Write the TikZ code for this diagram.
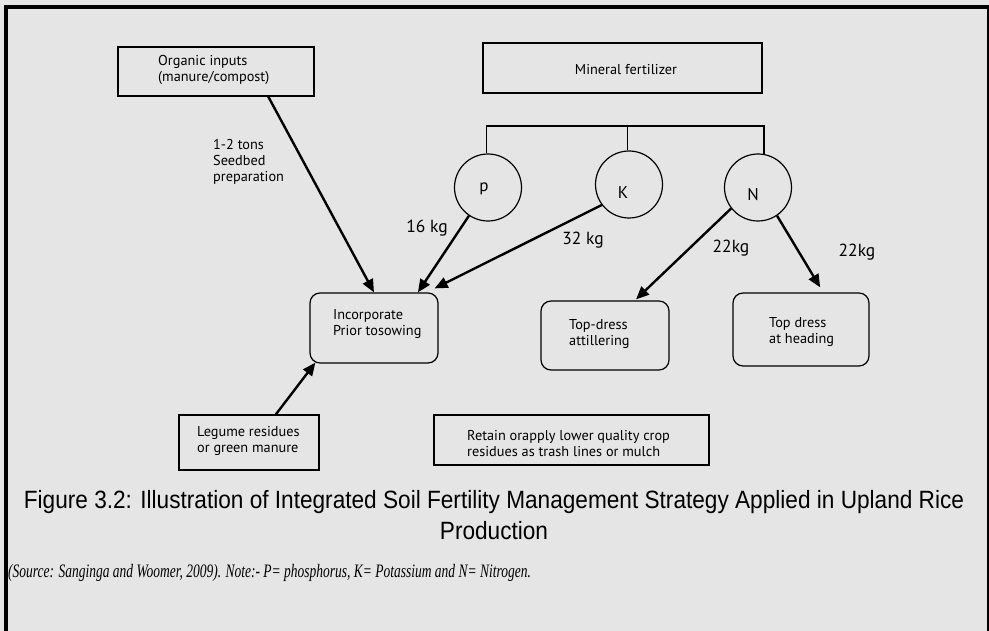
\documentclass[tikz,border=0pt]{standalone}
\usepackage{fontspec}
\setmainfont{PT Sans}
\newfontfamily\capfont[FakeStretch=0.905]{Liberation Sans}
\newfontfamily\srcfont[FakeStretch=0.71]{Liberation Serif}
\usetikzlibrary{arrows.meta,calc}
\definecolor{paper}{RGB}{229,229,229}

\begin{document}
\begin{tikzpicture}[x=1pt,y=-1pt,
  sqbox/.style={draw, line width=1.2pt, rectangle, inner sep=0pt},
  rbox/.style={sqbox, rounded corners=10pt},
  elem/.style={draw, circle, line width=1.2pt, minimum size=67pt, inner sep=0pt},
  txt/.style={inner sep=0pt, anchor=west, align=left, font=\fontsize{14.3}{16}\selectfont},
  sym/.style={inner sep=0pt, font=\fontsize{17}{20}\selectfont},
  qty/.style={inner sep=0pt, font=\fontsize{17.5}{20}\selectfont},
  arr/.style={line width=2.4pt, -{Triangle[length=13pt,width=11pt]}},
  link/.style={line width=1.2pt}]

% page and frame
\clip (0,0) rectangle (989,631);
\fill[paper] (0,0) rectangle (989,631);
\draw[line width=4pt] (6.2,640) -- (6.2,6.6) -- (989,6.6) -- (989,640);

% input boxes
\node[sqbox, minimum width=196pt, minimum height=49pt] (org) at (216,71.5) {};
\node[txt] (orgtxt) at (158,70) {Organic inputs\\(manure/compost)};

\node[sqbox, minimum width=279pt, minimum height=50pt] (min) at (622.5,68) {};
\node[txt, anchor=center] (mintxt) at (626,70) {Mineral fertilizer};

% nutrients
\node[elem] (p) at (488,187.5) {};
\node[elem] (K) at (629,184.5) {};
\node[elem] (N) at (758,187.5) {};
\node[sym] (ptxt) at (484,189) {p};
\node[sym] (Ktxt) at (623,193) {K};
\node[sym] (Ntxt) at (753,195) {N};

\coordinate (bus) at (0,126);
\draw[link] (p.93) |- (N.80 |- bus) -- (N.80);
\draw[link] (K.92) -- (K.92 |- bus);

% application boxes
\node[rbox, minimum width=128pt, minimum height=70pt] (inc) at (374,328) {};
\node[txt] (inctxt) at (333,324) {Incorporate\\Prior tosowing};

\node[rbox, minimum width=128pt, minimum height=69pt] (att) at (605,335.5) {};
\node[txt] (atttxt) at (569,334) {Top-dress\\attillering};

\node[rbox, minimum width=136pt, minimum height=73pt] (head) at (801,329.5) {};
\node[txt] (headtxt) at (769,332) {Top dress\\at heading};

\node[sqbox, minimum width=140pt, minimum height=55pt] (leg) at (249,442.5) {};
\node[txt] (legtxt) at (197,441) {Legume residues\\or green manure};

\node[sqbox, minimum width=275pt, minimum height=50pt] (ret) at (571.5,440) {};
\node[txt] (rettxt) at (467,443.5) {Retain orapply lower quality crop\\residues as trash lines or mulch};

% flows
\draw[arr] ($(org.south west)!0.765!(org.south east)$) -- (inc.north);
\draw[arr] (p.236) -- ($(inc.north west)!0.84!(inc.north east)$);
\draw[arr] (K.217) -- ($(inc.north east)+(-4,-4)$);
\draw[arr] (N.218) -- ($(att.north west)!0.74!(att.north east)+(0,-1)$);
\draw[arr] (N.304) -- ($(head.north west)!0.64!(head.north east)+(0,-5)$);
\draw[arr] ($(leg.north west)!0.69!(leg.north east)$) -- ($(inc.south west)+(6,-1)$);

% rates
\node[txt] (orgrate) at (213,161.5) {1-2 tons\\Seedbed\\preparation};
\node[qty] (prate) at (427,228) {16 kg};
\node[qty] (Krate) at (583,240) {32 kg};
\node[qty] (Nrate1) at (731,248) {22kg};
\node[qty] (Nrate2) at (857,252) {22kg};

% caption and source
\node[inner sep=0pt, align=center, font=\capfont\fontsize{25}{31}\selectfont] (cap) at (494,515.5)
  {Figure 3.2: Illustration of Integrated Soil Fertility Management Strategy Applied in Upland Rice\\Production};
\node[inner sep=0pt, anchor=west, font=\srcfont\itshape\fontsize{19}{22}\selectfont] (src) at (8,573)
  {(Source: Sanginga and Woomer, 2009). Note:- P= phosphorus, K= Potassium and N= Nitrogen.};
\end{tikzpicture}
\end{document}
